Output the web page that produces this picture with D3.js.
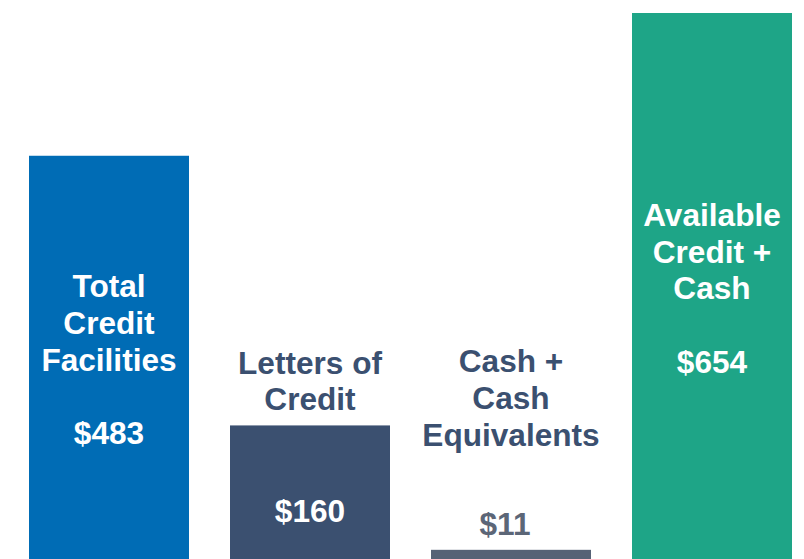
<!DOCTYPE html>
<html>
<head>
<meta charset="utf-8">
<script src="https://cdn.jsdelivr.net/npm/d3@7"></script>
<style>
  html, body { margin: 0; padding: 0; background: #ffffff; }
  svg { display: block; }
  text { font-family: "Liberation Sans", Arial, sans-serif; font-weight: bold; }
</style>
</head>
<body>
<svg id="chart" width="804" height="559"></svg>
<script>
// ---- data ----
const categories = ["Total Credit Facilities", "Letters of Credit", "Cash + Cash Equivalents", "Available Credit + Cash"];
const labelLines = [
  ["Total", "Credit", "Facilities"],
  ["Letters of", "Credit"],
  ["Cash +", "Cash", "Equivalents"],
  ["Available", "Credit +", "Cash"]
];
const values = [483, 160, 11, 654];
const valueLabels = ["$483", "$160", "$11", "$654"];
const barColors = ["#006cb5", "#3b5070", "#566276", "#1ea587"];

// ---- layout ----
const W = 804, H = 559;
const fontSize = 31.6, lineH = 36.7;
const svg = d3.select("#chart");

const x = d3.scaleBand().domain(categories).range([29, 792]).paddingInner(0.204).paddingOuter(0);
const y = d3.scaleLinear().domain([0, 654]).range([H, 13]);

const g = svg.append("g");

g.selectAll("rect.bar")
  .data(categories)
  .join("rect")
  .attr("class", "bar")
  .attr("x", d => x(d))
  .attr("y", (d, i) => y(values[i]))
  .attr("width", x.bandwidth())
  .attr("height", (d, i) => y(0) - y(values[i]))
  .attr("fill", (d, i) => barColors[i]);

// text placement modes: inside (label + value centered in bar), split (label above, value inside), above (label+value above)
const modes = ["inside", "split", "above", "inside"];
const capH = fontSize * 0.716;

categories.forEach((c, i) => {
  const cx = x(c) + x.bandwidth() / 2;
  const top = y(values[i]);
  const bottom = y(0);
  const lines = labelLines[i];
  let baselines = [], valueBase, valueDx = 0;
  if (modes[i] === "inside") {
    const n = lines.length + 2;
    const blockH = (n - 1) * lineH + capH;
    const mid = (top + bottom) / 2 + 2;
    const first = mid - blockH / 2 + capH;
    baselines = lines.map((l, k) => first + k * lineH);
    valueBase = first + (n - 1) * lineH;
  } else if (modes[i] === "split") {
    const last = top - 15;
    baselines = lines.map((l, k) => last - (lines.length - 1 - k) * lineH);
    valueBase = top + 97;
  } else {
    valueBase = top - 15;
    valueDx = -6;
    const last = valueBase - 89;
    baselines = lines.map((l, k) => last - (lines.length - 1 - k) * lineH);
  }
  const labelColor = modes[i] === "inside" ? "#ffffff" : "#3b5070";
  const valueColor = modes[i] === "above" ? "#5c6677" : "#ffffff";
  lines.forEach((l, k) => {
    g.append("text")
      .attr("x", cx).attr("y", baselines[k])
      .attr("text-anchor", "middle")
      .attr("font-size", fontSize)
      .attr("fill", labelColor)
      .text(l);
  });
  g.append("text")
    .attr("x", cx + valueDx).attr("y", valueBase)
    .attr("text-anchor", "middle")
    .attr("font-size", fontSize)
    .attr("fill", valueColor)
    .text(valueLabels[i]);
});
</script>
</body>
</html>
